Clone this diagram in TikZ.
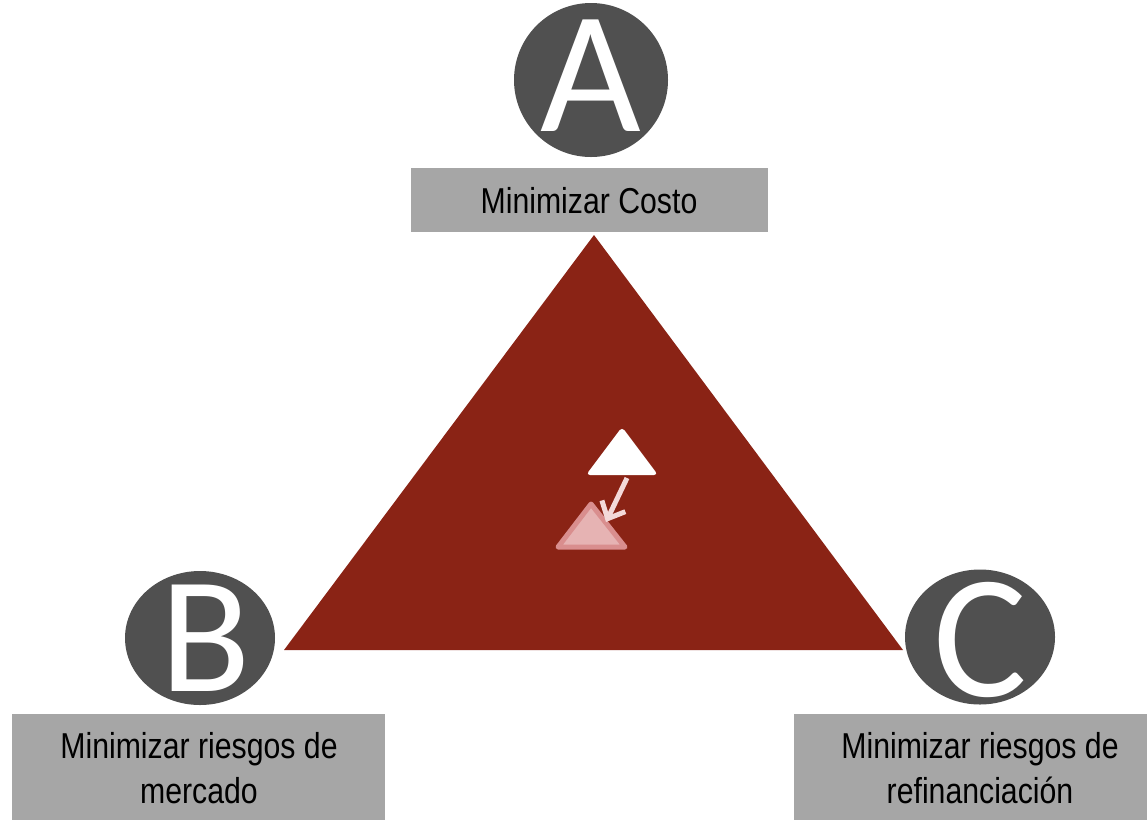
\documentclass[tikz,border=0pt]{standalone}
\usepackage{fontspec}
\setmainfont{Liberation Sans}[FakeStretch=0.84]
\newfontfamily\calfam{Carlito}
\usetikzlibrary{shapes.geometric,arrows.meta}
\definecolor{circgray}{HTML}{505050}
\definecolor{boxgray}{HTML}{A6A6A6}
\definecolor{bigred}{HTML}{8A2315}
\definecolor{pinkfill}{HTML}{E6B3B3}
\definecolor{pinkedge}{HTML}{D98E8E}
\definecolor{arrowpink}{HTML}{F3D9D9}
\tikzset{
  letter/.style={ellipse, fill=circgray, inner sep=0pt},
  labelbox/.style={rectangle, fill=boxgray, inner sep=0pt},
  labeltext/.style={align=center, font=\fontsize{36}{45}\selectfont},
}
\begin{document}
\begin{tikzpicture}[x=1pt,y=-1pt]
\useasboundingbox (0,0) rectangle (1147,820);
% circles
\node[letter, minimum width=154pt, minimum height=154pt] (A) at (591,80) {};
\node[text=white] (At) at (591,76) {\calfam\fontsize{174}{174}\selectfont A};
\node[letter, minimum width=150pt, minimum height=134pt] (B) at (200,638) {};
\node[text=white] (Bt) at (206,638) {\calfam\fontsize{166}{166}\selectfont B};
\node[letter, minimum width=150pt, minimum height=135pt] (C) at (980,637) {};
\node[text=white] (Ct) at (980,640) {\calfam\fontsize{176}{176}\selectfont C};
% boxes
\node[labelbox, minimum width=357pt, minimum height=64pt] (boxA) at (589.5,200) {};
\node[labeltext] (tA) at (589,201) {Minimizar Costo};
\node[labelbox, minimum width=373pt, minimum height=106pt] (boxB) at (198.5,767) {};
\node[labeltext] (tB) at (199,768) {Minimizar riesgos de\\mercado};
\node[labelbox, minimum width=353pt, minimum height=106pt] (boxC) at (970.5,767) {};
\node[labeltext] (tC) at (980,768) {Minimizar riesgos de\\refinanciaci\'on};
% big triangle
\fill[bigred] (594,235) -- (903,650) -- (284,650) -- cycle;
% white triangle
\fill[white, rounded corners=4pt] (622,427) -- (658,475) -- (586,475) -- cycle;
% pink triangle
\filldraw[fill=pinkfill, draw=pinkedge, line width=5pt, line join=round] (591,504) -- (625,547) -- (558,547) -- cycle;
% arrow
\coordinate (arrS) at (627,478);
\coordinate (arrE) at (606,522);
\draw[arrowpink, line width=5pt, -{Straight Barb[length=14pt, width=26pt, line width=5pt]}] (arrS) -- (arrE);
\end{tikzpicture}
\end{document}
